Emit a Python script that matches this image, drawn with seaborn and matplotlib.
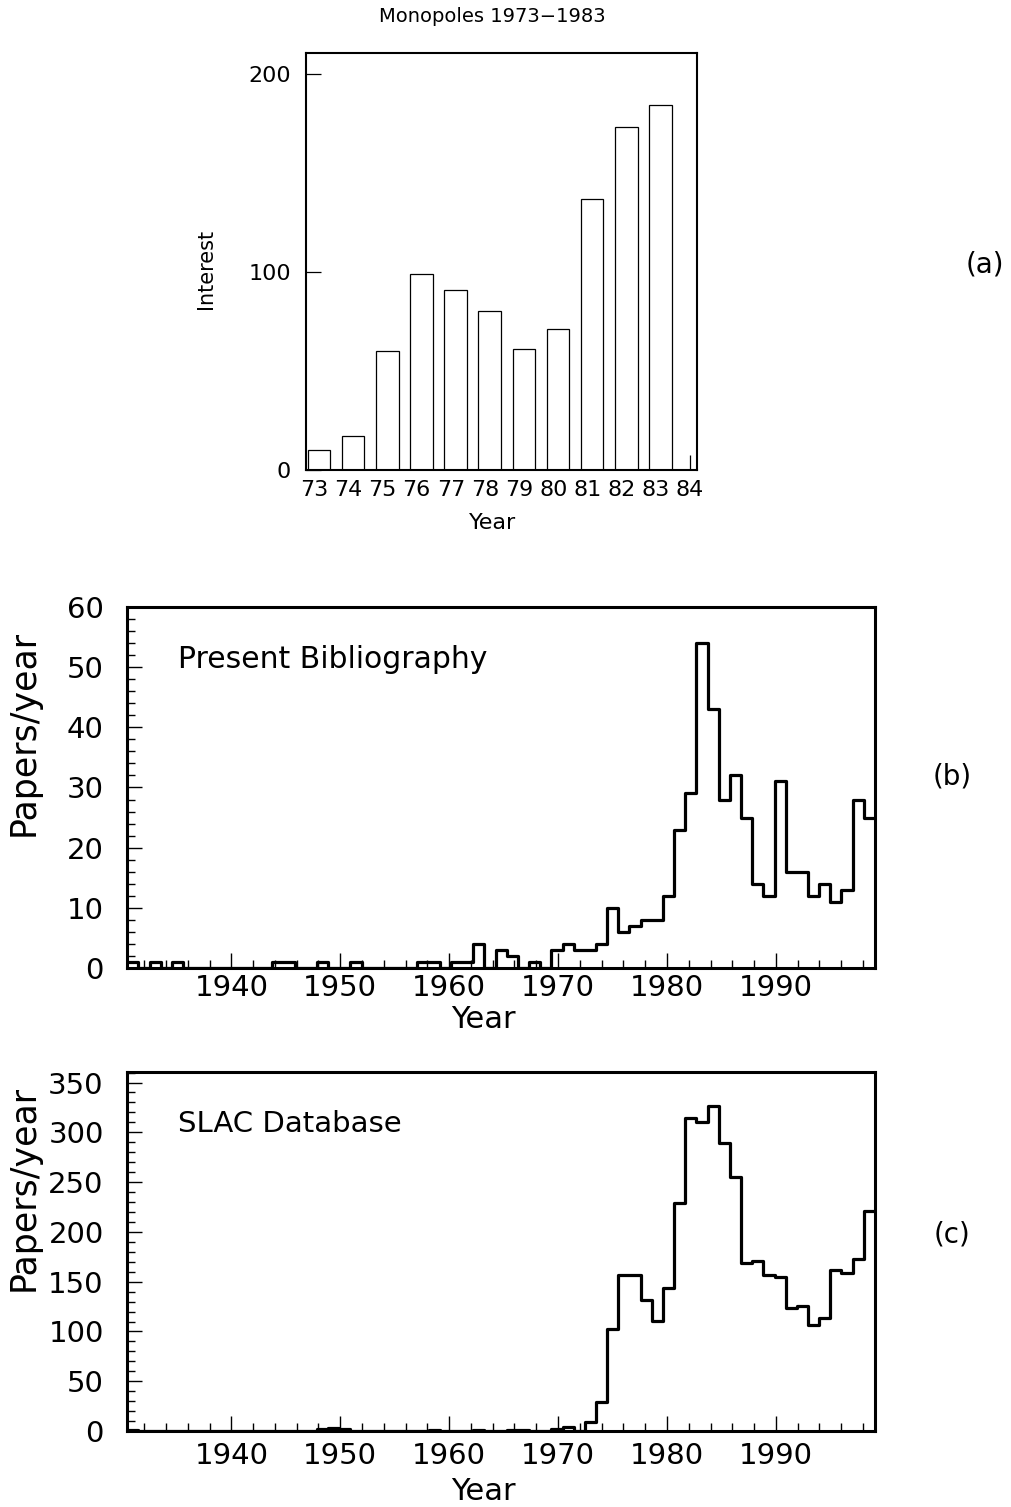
import numpy as np
import pandas as pd
import matplotlib
matplotlib.use("Agg")
import matplotlib.pyplot as plt
import seaborn as sns
from matplotlib.ticker import MultipleLocator, FixedLocator

# ---------------- data ----------------
# Panel (a): Monopoles 1973-1983
years_a = [73, 74, 75, 76, 77, 78, 79, 80, 81, 82, 83]
interest_a = [10, 17, 60, 99, 91, 80, 61, 71, 137, 173, 184]
year_ticks_a = [73, 74, 75, 76, 77, 78, 79, 80, 81, 82, 83, 84]

# Panels (b) and (c): one bin per year, 1932 ... 1998
bin_years = list(range(1932, 1999))
papers_bibliography = [
    1, 0, 1, 0, 1, 0, 0, 0, 0, 0,          # 1932-1941
    0, 0, 0, 1, 1, 0, 0, 1, 0, 0,          # 1942-1951
    1, 0, 0, 0, 0, 0, 1, 1, 0, 1,          # 1952-1961
    1, 4, 0, 3, 2, 0, 1, 0, 3, 4,          # 1962-1971
    3, 3, 4, 10, 6, 7, 8, 8, 12, 23,       # 1972-1981
    29, 54, 43, 28, 32, 25, 14, 12, 31, 16,  # 1982-1991
    16, 12, 14, 11, 13, 28, 25,            # 1992-1998
]
papers_slac = [
    1, 0, 0, 0, 0, 0, 0, 0, 0, 0,          # 1932-1941
    0, 0, 0, 0, 0, 0, 0, 2, 3, 2,          # 1942-1951
    0, 0, 0, 0, 0, 0, 0, 1, 0, 0,          # 1952-1961
    0, 1, 0, 0, 1, 1, 0, 0, 2, 4,          # 1962-1971
    0, 9, 29, 102, 157, 157, 132, 111, 144, 229,   # 1972-1981
    314, 310, 326, 289, 255, 169, 171, 157, 155, 124,  # 1982-1991
    126, 106, 114, 162, 159, 173, 221,     # 1992-1998
]

# ---------------- style ----------------
sns.set_theme(style="ticks")
plt.rcParams['font.family'] = ['DejaVu Sans']
plt.rcParams['axes.edgecolor'] = 'black'
plt.rcParams['axes.labelcolor'] = 'black'
plt.rcParams['text.color'] = 'black'
plt.rcParams['xtick.color'] = 'black'
plt.rcParams['ytick.color'] = 'black'

fig = plt.figure(figsize=(10.12, 15.07), dpi=100)
fig.patch.set_facecolor('white')

axA = fig.add_axes([0.3024, 0.6881, 0.3864, 0.2767])
axB = fig.add_axes([0.1258, 0.3577, 0.7388, 0.2395])
axC = fig.add_axes([0.1258, 0.0504, 0.7388, 0.2382])

# ---------------- panel (a) ----------------
dfa = pd.DataFrame({"year": years_a, "interest": interest_a})
sns.barplot(data=dfa, x="year", y="interest", native_scale=True, width=0.66,
            color="white", edgecolor="black", linewidth=0.9, saturation=1,
            ax=axA)
for p in axA.patches:
    p.set_x(p.get_x() + 0.14)
axA.set_xlim(72.76, 84.21)
axA.set_ylim(0, 210.4)
axA.xaxis.set_major_locator(FixedLocator(year_ticks_a))
axA.set_xticklabels([str(y) for y in year_ticks_a])
axA.yaxis.set_major_locator(FixedLocator([0, 100, 200]))
axA.tick_params(axis='both', which='major', direction='in', length=11, width=0.9,
                labelsize=16)
axA.tick_params(axis='y', pad=11)
axA.tick_params(axis='x', pad=7)
for s in axA.spines.values():
    s.set_visible(True)
    s.set_linewidth(1.5)
    s.set_color('black')
axA.set_xlabel("Year", fontsize=16)
axA.set_ylabel("Interest", fontsize=15)
axA.xaxis.set_label_coords(0.478, -0.103)
axA.yaxis.set_label_coords(-0.231, 0.482)
fig.text(492 / 1012, 1 - 17 / 1507, "Monopoles 1973\u22121983", ha='center',
         va='center', fontsize=14)
fig.text(985 / 1012, 1 - 265 / 1507, "(a)", ha='center', va='center', fontsize=20)

# ---------------- panels (b), (c) ----------------
XL, XR = 1930.45, 1999.1
edges = np.linspace(XL, XR, len(bin_years) + 1)
centers = 0.5 * (edges[:-1] + edges[1:])


def hist_panel(ax, values, ymax, ymajor, yminor, label, label_fs, ylab_y, xlab_y,
               xpad, tag, tag_y):
    df = pd.DataFrame({"pos": centers, "n": values, "year": bin_years})
    sns.histplot(data=df, x="pos", weights="n", bins=edges.tolist(), element="step",
                 fill=False, color="black", linewidth=2.3, ax=ax)
    ax.set_xlim(XL, XR)
    ax.set_ylim(0, ymax)
    ax.xaxis.set_major_locator(MultipleLocator(10))
    ax.xaxis.set_minor_locator(MultipleLocator(2))
    ax.yaxis.set_major_locator(MultipleLocator(ymajor))
    ax.yaxis.set_minor_locator(MultipleLocator(yminor))
    ax.tick_params(axis='both', which='major', direction='in', length=11,
                   width=1.0, labelsize=21)
    ax.tick_params(axis='both', which='minor', direction='in', length=5.5,
                   width=1.0)
    ax.tick_params(axis='y', which='major', pad=17)
    ax.tick_params(axis='x', which='major', pad=xpad)
    for s in ax.spines.values():
        s.set_visible(True)
        s.set_linewidth(2.2)
        s.set_color('black')
    ax.set_xlabel("Year", fontsize=22)
    ax.set_ylabel("Papers/year", fontsize=25)
    ax.xaxis.set_label_coords(0.476, xlab_y)
    ax.yaxis.set_label_coords(-0.116, ylab_y)
    ax.text(0.068, 0.855, label, transform=ax.transAxes, ha='left', va='center',
            fontsize=label_fs)
    fig.text(952 / 1012, 1 - tag_y / 1507, tag, ha='center', va='center', fontsize=20)


hist_panel(axB, papers_bibliography, 60, 10, 2, "Present Bibliography", 21.5,
           0.651, -0.103, 4.0, "(b)", 777)
hist_panel(axC, papers_slac, 360.5, 50, 10, "SLAC Database", 21,
           0.677, -0.128, 8.0, "(c)", 1235)

fig.savefig("out.png", dpi=100, facecolor='white')
